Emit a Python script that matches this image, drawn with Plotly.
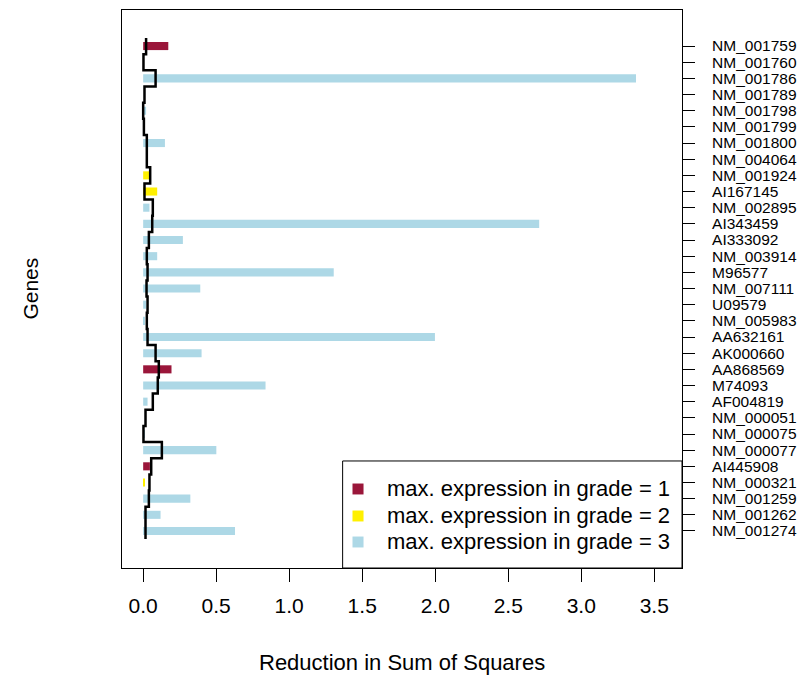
import plotly.graph_objects as go

genes = ["NM_001759", "NM_001760", "NM_001786", "NM_001789", "NM_001798", "NM_001799",
         "NM_001800", "NM_004064", "NM_001924", "AI167145", "NM_002895", "AI343459",
         "AI333092", "NM_003914", "M96577", "NM_007111", "U09579", "NM_005983",
         "AA632161", "AK000660", "AA868569", "M74093", "AF004819", "NM_000051",
         "NM_000075", "NM_000077", "AI445908", "NM_000321", "NM_001259", "NM_001262",
         "NM_001274"]
reduction = [0.172, 0.0, 3.375, 0.0, 0.02, 0.0,
             0.149, 0.0, 0.043, 0.096, 0.043, 2.712,
             0.272, 0.096, 1.305, 0.391, 0.02, 0.012,
             1.998, 0.40, 0.194, 0.838, 0.030, 0.0,
             0.010, 0.501, 0.046, 0.011, 0.323, 0.119,
             0.629]
grade = [1, 3, 3, 3, 3, 3,
         3, 3, 2, 2, 3, 3,
         3, 3, 3, 3, 3, 3,
         3, 3, 1, 3, 3, 3,
         3, 3, 1, 2, 3, 3,
         3]
step_line = [0.02, 0.002, 0.085, 0.009, 0.0, 0.005,
             0.025, 0.025, 0.048, 0.009, 0.066, 0.062,
             0.039, 0.025, 0.03, 0.023, 0.03, 0.025,
             0.03, 0.085, 0.107, 0.10, 0.066, 0.016,
             0.002, 0.128, 0.055, 0.043, 0.039, 0.016,
             0.016]
grade_names = {1: "max. expression in grade = 1",
               2: "max. expression in grade = 2",
               3: "max. expression in grade = 3"}
grade_colors = {1: "#9A163A", 2: "#FFF000", 3: "#ADD8E6"}
x_ticks = [0.0, 0.5, 1.0, 1.5, 2.0, 2.5, 3.0, 3.5]

pos = list(range(len(genes)))
FONT = "Liberation Sans, Arial, sans-serif"

fig = go.Figure()
for g in (1, 2, 3):
    xs = [v for v, gg in zip(reduction, grade) if gg == g]
    ys = [p for p, gg in zip(pos, grade) if gg == g]
    fig.add_trace(go.Bar(x=xs, y=ys, orientation="h", width=0.5,
                         marker=dict(color=grade_colors[g], line=dict(width=0)),
                         name=grade_names[g], showlegend=False))

ly = [pos[0] - 0.5] + pos + [pos[-1] + 0.5]
lx = [step_line[0]] + step_line + [step_line[-1]]
fig.add_trace(go.Scatter(x=lx, y=ly, mode="lines", line=dict(color="black", width=2.5, shape="vhv"),
                         showlegend=False, hoverinfo="skip"))

# manual R-style legend box (paper coordinates)
shapes = [dict(type="rect", xref="paper", yref="paper", x0=0.394, x1=1.0, y0=0.0, y1=0.1918,
               line=dict(color="black", width=1), fillcolor="rgba(0,0,0,0)", layer="above")]
annotations = []
legend_rows = [0.1416, 0.0932, 0.0466]
for g, yr in zip((1, 2, 3), legend_rows):
    shapes.append(dict(type="rect", xref="paper", yref="paper", x0=0.4116, x1=0.4313,
                       y0=yr - 0.0098, y1=yr + 0.0098, line=dict(width=0),
                       fillcolor=grade_colors[g], layer="above"))
    annotations.append(dict(text=grade_names[g], xref="paper", yref="paper", x=0.4695, y=yr,
                            xanchor="left", yanchor="middle", showarrow=False,
                            font=dict(size=22)))

annotations += [
    dict(text="Reduction in Sum of Squares", xref="paper", yref="paper", x=0.5, y=-0.170,
         xanchor="center", yanchor="middle", showarrow=False, font=dict(size=22)),
    dict(text="Genes", xref="paper", yref="paper", x=-0.165, y=0.5, textangle=-90,
         xanchor="center", yanchor="middle", showarrow=False, font=dict(size=21)),
]

fig.update_layout(
    width=812, height=676,
    margin=dict(l=122, r=130, t=10, b=108),
    plot_bgcolor="white", paper_bgcolor="white",
    barmode="overlay",
    font=dict(family=FONT, color="black"),
    showlegend=False,
    xaxis=dict(range=[-0.145, 3.69], tickvals=x_ticks, tickformat=".1f",
               ticks="outside", ticklen=13, tickwidth=1, tickcolor="black",
               showline=True, linecolor="black", linewidth=1, mirror=True,
               showgrid=False, zeroline=False, tickfont=dict(size=21),
               ticklabelstandoff=6),
    yaxis=dict(range=[pos[-1] + 2.29, pos[0] - 2.23], tickvals=pos, ticktext=genes,
               side="right", ticks="outside", ticklen=12, tickwidth=1, tickcolor="black",
               showline=True, linecolor="black", linewidth=1, mirror=True,
               showgrid=False, zeroline=False, tickfont=dict(size=15.5),
               ticklabelstandoff=14),
    shapes=shapes,
    annotations=annotations,
)

fig.write_html("out.html")
